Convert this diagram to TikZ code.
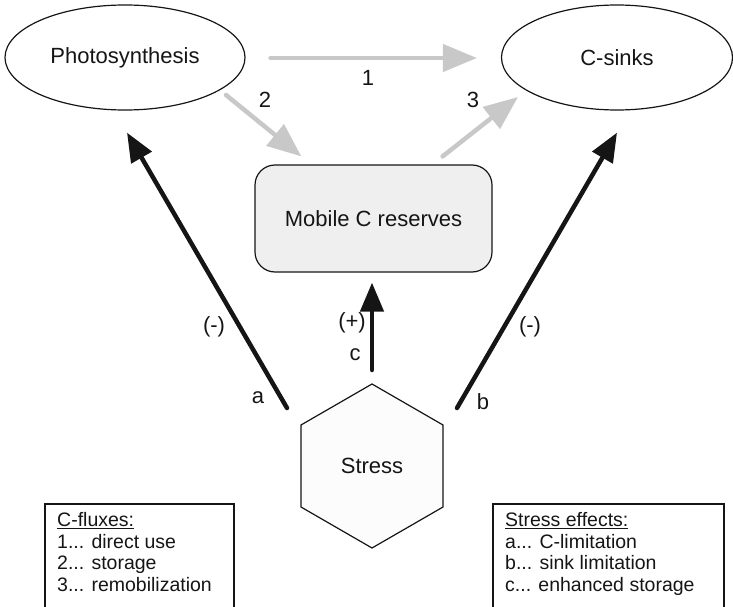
\documentclass[tikz,border=0pt]{standalone}
\usepackage{fontspec}
\setmainfont{Liberation Sans}
\usetikzlibrary{shapes.geometric,arrows.meta,calc}
\definecolor{fluxgray}{HTML}{C8C8C8}
\definecolor{reservefill}{HTML}{EFEFEF}
\definecolor{stressfill}{HTML}{FCFCFC}
\definecolor{ink}{HTML}{151515}
\begin{document}
\begin{tikzpicture}[x=1pt,y=-1pt,
  every node/.style={font=\fontsize{22}{25}\selectfont, text=ink},
  pool/.style={ellipse, draw=ink, line width=1.2pt, inner sep=0pt},
  flux/.style={draw=fluxgray, line width=4.5pt, line cap=round, -{Triangle[length=34pt,width=27pt]}},
  effect/.style={draw=ink, line width=4.5pt, line cap=round, -{Triangle[length=29pt,width=23pt]}},
  lbl/.style={inner sep=0pt},
  legend/.style={font=\fontsize{19.5}{21.7}\selectfont, align=left, anchor=north west, inner sep=0pt},
  frame/.style={draw=ink, line width=1.2pt}
]
\useasboundingbox (0,0) rectangle (733,607);
\clip (0,0) rectangle (733,607);

% carbon pools
\node[pool, minimum width=240pt, minimum height=105pt] (photo) at (125,57.5) {Photosynthesis};
\node[pool, minimum width=231pt, minimum height=105pt] (csinks) at (617,57.5) {C-sinks};
\node[draw=ink, line width=1.2pt, fill=reservefill, rounded corners=20pt,
      minimum width=237pt, minimum height=107pt, inner sep=0pt] (mobile) at (373.5,218.5) {Mobile C reserves};
\node[regular polygon, regular polygon sides=6, regular polygon rotate=30,
      minimum size=164pt, inner sep=0pt, outer sep=0pt,
      draw=ink, line width=1.2pt, fill=stressfill] (stress) at (372,466) {Stress};

% carbon fluxes
\draw[flux] ($(photo.east)+(25,0.5)$) -- ($(csinks.west)+(-24,0.5)$);
\draw[flux] ($(photo.center)+(101,37.5)$) -- ($(mobile.north west)+(47,-8)$);
\draw[flux] ($(mobile.north east)+(-50,-8)$) -- ($(csinks.center)+(-99,39.5)$);

% stress effects
\draw[effect] ($(stress.center)+(-85,-58)$) -- ($(photo.south)+(2,22)$);
\draw[effect] ($(stress.center)+(85,-58)$) -- ($(csinks.south)+(0,22)$);
\draw[effect] ($(stress.center)+(0,-96)$) -- ($(mobile.south)+(-1.5,10)$);

% labels
\node[lbl] (l1) at (368,78) {1};
\node[lbl] (l2) at (265,100) {2};
\node[lbl] (l3) at (473,100) {3};
\node[lbl] (la) at (258,398) {a};
\node[lbl] (lb) at (483,402) {b};
\node[lbl] (lc) at (355,355) {c};
\node[lbl] (lam) at (214,327) {(-)};
\node[lbl] (lbm) at (530,327) {(-)};
\node[lbl] (lcp) at (352,323) {(+)};

% legends
\draw[frame] (45,620) |- (234,504) -- (234,620);
\node[legend] (legL) at (57,512) {\underline{C-fluxes:}\\1... direct use\\2... storage\\3... remobilization};
\draw[frame] (493,620) |- (724,504) -- (724,620);
\node[legend] (legR) at (505,512) {\underline{Stress effects:}\\a... C-limitation\\b... sink limitation\\c... enhanced storage};
\end{tikzpicture}
\end{document}
